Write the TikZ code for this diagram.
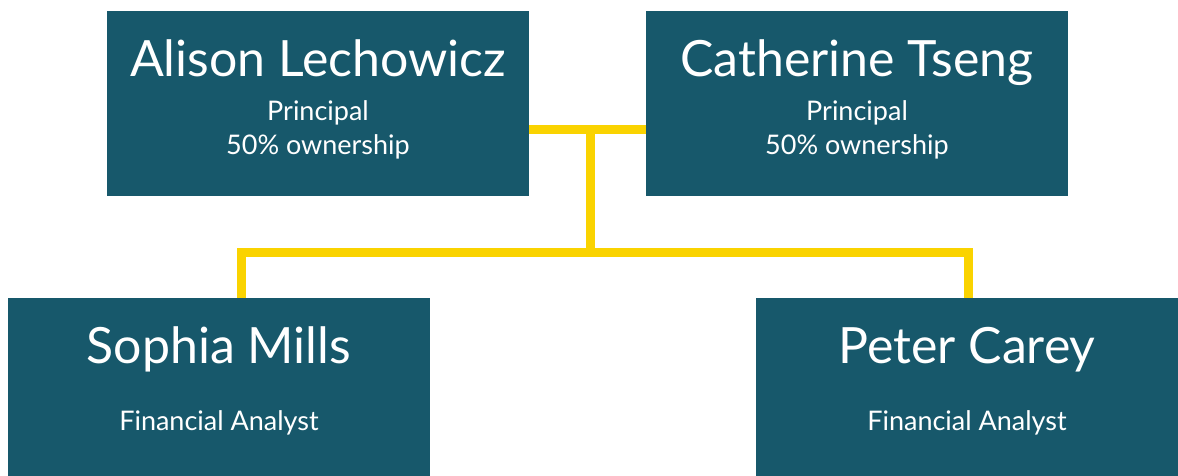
\documentclass[tikz,border=0pt]{standalone}
\usepackage{fontspec}
\setmainfont{Lato}
\definecolor{boxteal}{RGB}{23,88,107}
\definecolor{gold}{RGB}{250,211,0}

\begin{document}
\begin{tikzpicture}[x=1pt,y=-1pt,
                    box/.style = {shape=rectangle, fill=boxteal, inner sep=0pt,
                                  minimum width=422pt},
                    topbox/.style = {box, minimum height=185pt},
                    lowbox/.style = {box, minimum height=178pt},
                    fullname/.style = {text=white, anchor=base,
                                   font=\fontsize{50}{60}\selectfont},
                    role/.style = {text=white, anchor=base,
                                   font=\fontsize{27}{32}\selectfont},
                    link/.style = {draw=gold, line width=9pt, line join=miter}]
  \useasboundingbox (0,0) rectangle (1178,476);
  % boxes
  \node[topbox] (alison) at (318,103.5) {};
  \node[topbox] (catherine) at (857,103.5) {};
  \node[lowbox] (sophia) at (219,387) {};
  \node[lowbox] (peter) at (967,387) {};
  % texts
  \node[fullname] (alisonname) at (318,77) {Alison Lechowicz};
  \node[role] (alisonrole) at (318,121) {Principal};
  \node[role] (alisonshare) at (318,155) {50\% ownership};
  \node[fullname] (catherinename) at (857,77) {Catherine Tseng};
  \node[role] (catherinerole) at (857,121) {Principal};
  \node[role] (catherineshare) at (857,155) {50\% ownership};
  \node[fullname] (sophianame) at (219,363) {Sophia Mills};
  \node[role] (sophiarole) at (219,430) {Financial Analyst};
  \node[fullname] (petername) at (967,363) {Peter Carey};
  \node[role] (peterrole) at (967,430) {Financial Analyst};
  % connectors
  \coordinate (join) at (590,129.5);
  \coordinate (split) at (590,252.5);
  \coordinate (leftdrop) at (241,252.5);
  \coordinate (rightdrop) at (968,252.5);
  \draw[link] (alison.east |- join) -- (catherine.west |- join);
  \draw[link] (join) -- (split);
  \draw[link] (leftdrop |- sophia.north) -- (leftdrop) -- (rightdrop)
              -- (rightdrop |- peter.north);
\end{tikzpicture}
\end{document}
